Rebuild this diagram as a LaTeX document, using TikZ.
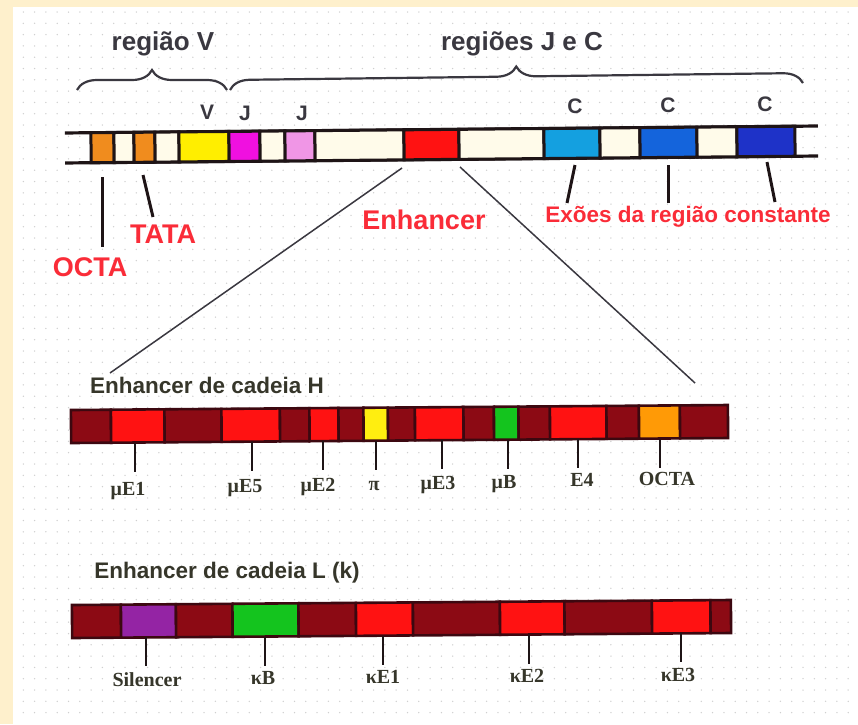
\documentclass[tikz,border=0pt]{standalone}
\usepackage{fontspec}
\setmainfont{Liberation Serif}
\setsansfont{Liberation Sans}
\usetikzlibrary{decorations.pathreplacing}
\definecolor{framey}{HTML}{FEF0CC}
\definecolor{dotc}{HTML}{CFCFCF}
\definecolor{inkgray}{HTML}{3A3840}
\definecolor{lblgray}{HTML}{36362A}
\definecolor{redtxt}{HTML}{FA2C38}
\definecolor{barink}{HTML}{1E1416}
\definecolor{corange}{HTML}{F08C1E}
\definecolor{ccream}{HTML}{FFFBEA}
\definecolor{cyellow}{HTML}{FFEE00}
\definecolor{cmagenta}{HTML}{F010E0}
\definecolor{cpink}{HTML}{F096E6}
\definecolor{cred}{HTML}{FF1212}
\definecolor{ccyan}{HTML}{14A0E0}
\definecolor{cblue}{HTML}{1464DC}
\definecolor{cdblue}{HTML}{1E32C8}
\definecolor{cdark}{HTML}{8C0A14}
\definecolor{cdiv}{HTML}{3C0810}
\definecolor{cgreen}{HTML}{14C41E}
\definecolor{cpurple}{HTML}{9424A4}
\definecolor{cyel2}{HTML}{FFEE10}
\definecolor{corg2}{HTML}{FF9A06}
\begin{document}
\begin{tikzpicture}[x=1pt,y=-1pt,
  regiontxt/.style={font=\sffamily\bfseries\fontsize{26}{30}\selectfont, text=inkgray, inner sep=0pt},
  segtxt/.style={font=\sffamily\bfseries\fontsize{21}{24}\selectfont, text=inkgray, inner sep=0pt},
  redbig/.style={font=\sffamily\bfseries\fontsize{27}{30}\selectfont, text=redtxt, inner sep=0pt},
  redsmall/.style={font=\sffamily\bfseries\fontsize{22.5}{26}\selectfont, text=redtxt, inner sep=0pt},
  titletxt/.style={font=\sffamily\bfseries\fontsize{22.5}{26}\selectfont, text=lblgray, inner sep=0pt},
  sitetxt/.style={font=\bfseries\fontsize{20}{24}\selectfont, text=lblgray, inner sep=0pt, anchor=base},
  bracestyle/.style={decorate, decoration={brace, amplitude=20pt}, line width=2.2pt, draw=inkgray},
  callout/.style={line width=3pt, draw=barink},
  thinline/.style={line width=1.5pt, draw=inkgray},
  tickline/.style={line width=2.5pt, draw=barink},
  cellT/.style={draw=barink, line width=3pt},
  cellE/.style={draw=cdiv, line width=2.6pt}
]
\useasboundingbox (0,0) rectangle (858,724);
\fill[framey] (0,0) rectangle (858,724);
\fill[white] (13,7) rectangle (858,724);
\foreach \i in {0,...,73}{
  \foreach \j in {0,...,62}{
    \fill[dotc] ({23.3+11.3*\i},{12+11.3*\j}) circle[radius=0.75pt];
  }
}

% ---------- braces and region titles ----------
\coordinate (bv1) at (77,90);
\coordinate (bv2) at (227,90);
\coordinate (bj1) at (230,90);
\coordinate (bj2) at (803,83);
\draw[bracestyle] (bv1) -- (bv2);
\draw[bracestyle] (bj1) -- (bj2);
\node[regiontxt] (regV) at (163,44) {região V};
\node[regiontxt] (regJC) at (522,44) {regiões J e C};

% ---------- top gene bar ----------
\begin{scope}[rotate around={0.53:(440,144.5)}]
  \draw[barink, line width=3.2pt] (65,129.5) -- (818,129.5);
  \draw[barink, line width=3.2pt] (65,159.5) -- (818,159.5);
  \foreach \a/\b/\c in {91/114/corange, 114/134/ccream, 134/155/corange, 155/179/ccream,
     179/229/cyellow, 229/260/cmagenta, 260/285/ccream, 285/315/cpink, 315/404/ccream,
     404/459/cred, 459/544/ccream, 544/600/ccyan, 600/640/ccream, 640/697/cblue,
     697/737/ccream, 737/795/cdblue}
    \draw[cellT, fill=\c] (\a,129.5) rectangle (\b,159.5);
\end{scope}

\node[segtxt] (lV) at (207,112) {V};
\node[segtxt] (lJ1) at (245,113) {J};
\node[segtxt] (lJ2) at (302,113) {J};
\node[segtxt] (lC1) at (575,106) {C};
\node[segtxt] (lC2) at (668,105) {C};
\node[segtxt] (lC3) at (765,104) {C};

% ---------- callouts below top bar ----------
\node[redbig] (octa) at (90,267) {OCTA};
\node[redbig] (tata) at (163,234) {TATA};
\node[redbig] (enh) at (424,220) {Enhancer};
\node[redsmall] (exoes) at (688,217) {Exões da região constante};

\coordinate (oc1) at (102,177); \coordinate (oc2) at (102,247);
\coordinate (ta1) at (143,175); \coordinate (ta2) at (153,217);
\coordinate (c1a) at (575,165); \coordinate (c1b) at (567,203);
\coordinate (c2a) at (668,165); \coordinate (c2b) at (668,203);
\coordinate (c3a) at (767,162); \coordinate (c3b) at (775,202);
\draw[callout] (oc1) -- (oc2);
\draw[callout] (ta1) -- (ta2);
\draw[callout] (c1a) -- (c1b);
\draw[callout] (c2a) -- (c2b);
\draw[callout] (c3a) -- (c3b);

\coordinate (el1) at (402,168); \coordinate (el2) at (110,373);
\coordinate (er1) at (460,167); \coordinate (er2) at (695,383);
\draw[thinline] (el1) -- (el2);
\draw[thinline] (er1) -- (er2);

% ---------- heavy chain enhancer ----------
\node[titletxt] (titH) at (207,385) {Enhancer de cadeia H};
\begin{scope}[rotate around={0.437:(400,424)}]
  \foreach \a/\b/\c in {71/111/cdark, 111/164.5/cred, 164.5/221.5/cdark, 221.5/280/cred,
     280/309.5/cdark, 309.5/338.5/cred, 338.5/363.5/cdark, 363.5/388/cyel2, 388/415/cdark,
     415/463.5/cred, 463.5/494/cdark, 494/518.5/cgreen, 518.5/550/cdark, 550/606.5/cred,
     606.5/639/cdark, 639/680/corg2, 680/728/cdark}
    \draw[cellE, fill=\c] (\a,407.5) rectangle (\b,440.5);
\end{scope}
\foreach \x/\t/\lx/\lb/\txt [count=\k] in {
   135/442.5/128/495/{μE1}, 252/441.6/245/492.8/{μE5}, 323/441.1/318/491.5/{μE2},
   376/440.7/374/490.4/{π}, 442/440.2/438/489.2/{μE3}, 508/439.7/504/488/{μB},
   578/439.1/582/486.6/{E4}, 660/438.5/667/485/{OCTA}}{
  \coordinate (h\k a) at (\x,\t);
  \coordinate (h\k b) at (\x,\t+29);
  \draw[tickline] (h\k a) -- (h\k b);
  \node[sitetxt] (hl\k) at (\lx,\lb) {\txt};
}

% ---------- light chain enhancer ----------
\node[titletxt] (titL) at (227,573) {Enhancer de cadeia L (k)};
\begin{scope}[rotate around={0.436:(401,619)}]
  \foreach \a/\b/\c in {72/121/cdark, 121/176/cpurple, 176/232.5/cdark, 232.5/298.5/cgreen,
     298.5/356/cdark, 356/413/cred, 413/500/cdark, 500/564.5/cred, 564.5/652/cdark,
     652/710.5/cred, 710.5/731/cdark}
    \draw[cellE, fill=\c] (\a,602.5) rectangle (\b,635.5);
\end{scope}
\foreach \x/\t/\lx/\lb/\txt [count=\k] in {
   146/637.4/147/686/{Silencer}, 265/636.5/263/684.9/{κB}, 383/635.6/383/683.8/{κE1},
   529/634.5/527/682.4/{κE2}, 681/633.4/678/681/{κE3}}{
  \coordinate (k\k a) at (\x,\t);
  \coordinate (k\k b) at (\x,\t+29);
  \draw[tickline] (k\k a) -- (k\k b);
  \node[sitetxt] (kl\k) at (\lx,\lb) {\txt};
}
\end{tikzpicture}
\end{document}
